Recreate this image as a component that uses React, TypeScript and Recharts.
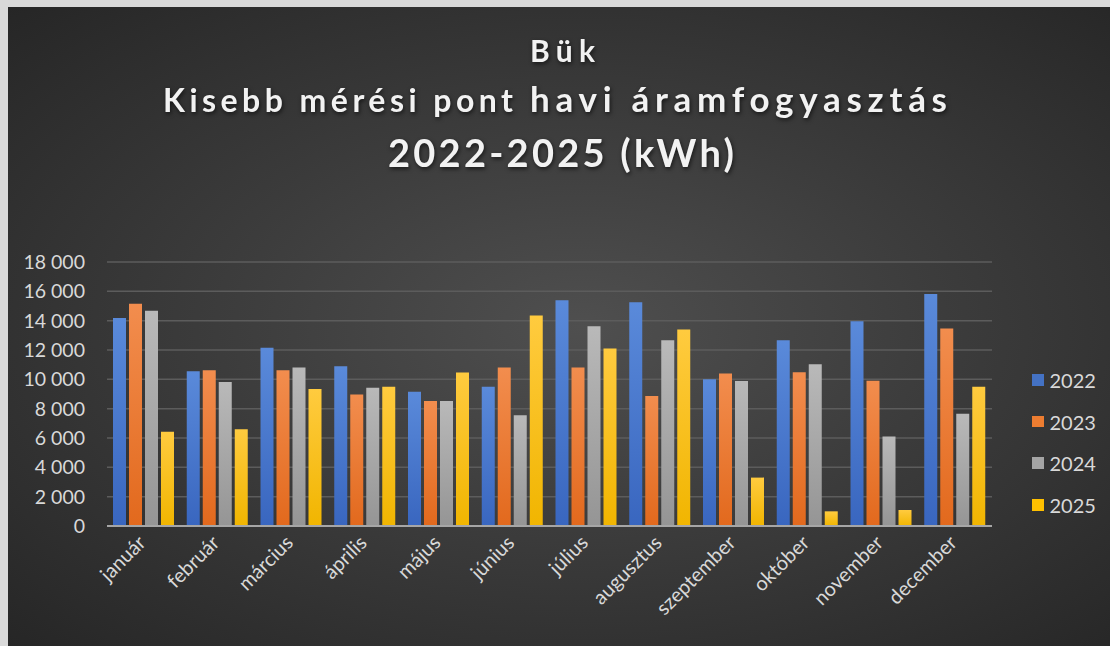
import React from 'react';
import { BarChart, Bar, XAxis, YAxis, CartesianGrid, Legend } from 'recharts';

const months = ['január', 'február', 'március', 'április', 'május', 'június', 'július', 'augusztus', 'szeptember', 'október', 'november', 'december'];
const years = ['2022', '2023', '2024', '2025'];
const v2022 = [14180, 10550, 12160, 10890, 9160, 9500, 15390, 15250, 10000, 12660, 13960, 15820];
const v2023 = [15160, 10620, 10620, 8960, 8520, 10800, 10800, 8860, 10390, 10480, 9910, 13460];
const v2024 = [14680, 9820, 10800, 9430, 8520, 7550, 13620, 12660, 9890, 11030, 6100, 7660];
const v2025 = [6430, 6590, 9340, 9500, 10460, 14350, 12100, 13390, 3300, 1000, 1090, 9500];
const yTicks = [0, 2000, 4000, 6000, 8000, 10000, 12000, 14000, 16000, 18000];

const seriesValues = [v2022, v2023, v2024, v2025];
const colors = ['#4472C4', '#ED7D31', '#A5A5A5', '#FFC000'];
const colorsTop = ['#5A8ADA', '#F28D4E', '#B9B9B9', '#FFCB3F'];
const colorsBottom = ['#3966BF', '#E2691D', '#959595', '#F1B500'];

const data = months.map((m, i) => {
  const row: Record<string, string | number> = { month: m };
  years.forEach((y, k) => {
    row['y' + y] = seriesValues[k][i];
  });
  return row;
});

const FONT = 'Lato, "Open Sans", sans-serif';

const fmt = (v: number) => {
  if (v < 1000) return String(v);
  return `${Math.floor(v / 1000)} ${String(v % 1000).padStart(3, '0')}`;
};

const XTick = (props: any) => {
  const { x, y, payload } = props;
  const px = x + 3;
  const py = y + 10;
  return (
    <text
      x={px}
      y={py}
      transform={`rotate(-45 ${px} ${py})`}
      textAnchor="end"
      fill="#d9d9d9"
      fontSize={20}
      fontFamily={FONT}
    >
      {payload.value}
    </text>
  );
};

const LegendContent = () => (
  <div style={{ fontFamily: FONT }}>
    {years.map((y, i) => (
      <div key={y} style={{ height: 41.7, display: 'flex', alignItems: 'center' }}>
        <div style={{ width: 11.5, height: 11.5, background: colors[i], marginRight: 6 }} />
        <span style={{ color: '#d9d9d9', fontSize: 20, lineHeight: '20px' }}>{y}</span>
      </div>
    ))}
  </div>
);

export default function App() {
  return (
    <div style={{ position: 'absolute', left: 0, top: 0, width: 1110, height: 646, background: '#d9d9d9', overflow: 'hidden' }}>
      <div
        style={{
          position: 'absolute',
          left: 8,
          top: 7,
          width: 1102,
          height: 639,
          background: 'radial-gradient(ellipse farthest-corner at 52% 50%, #4f4f4f 0%, #3c3c3c 45%, #262626 100%)',
        }}
      >
        <BarChart
          width={1102}
          height={639}
          data={data}
          margin={{ top: 255, right: 118, bottom: 0, left: 0 }}
          barSize={13}
          barGap={3}
        >
          <defs>
            {years.map((y, i) => (
              <linearGradient key={y} id={'g' + y} x1="0" y1="0" x2="0" y2="1">
                <stop offset="0%" stopColor={colorsTop[i]} />
                <stop offset="100%" stopColor={colorsBottom[i]} />
              </linearGradient>
            ))}
          </defs>
          <CartesianGrid vertical={false} stroke="#5c5c5c" strokeWidth={1.5} />
          <XAxis
            dataKey="month"
            height={120}
            interval={0}
            tickLine={false}
            axisLine={{ stroke: '#a6a6a6', strokeWidth: 2 }}
            tick={<XTick />}
          />
          <YAxis
            width={99}
            domain={[0, 18000]}
            ticks={yTicks}
            tickFormatter={fmt}
            axisLine={false}
            tickLine={false}
            tickSize={6}
            tickMargin={16}
            tick={{ fill: '#d9d9d9', fontSize: 19.5, fontFamily: FONT }}
          />
          <Legend
            layout="horizontal"
            align="center"
            verticalAlign="middle"
            content={<LegendContent />}
            wrapperStyle={{ left: 1024, top: 352, width: 80, height: 170 }}
          />
          {years.map((y) => (
            <Bar key={y} dataKey={'y' + y} name={y} fill={`url(#g${y})`} isAnimationActive={false} />
          ))}
        </BarChart>
        <svg
          width={1102}
          height={200}
          style={{ position: 'absolute', left: 0, top: 0, pointerEvents: 'none', fontFamily: FONT }}
        >
          <g fill="#f2f2f2" fontWeight="bold" style={{ filter: 'drop-shadow(1px 2px 2px rgba(0,0,0,0.6))' }}>
            <text x={522} y={55} fontSize={30} textLength={65} lengthAdjust="spacing">Bük</text>
            <text x={155} y={105} fontSize={32} textLength={350} lengthAdjust="spacing">Kisebb mérési pont</text>
            <text x={522} y={105} fontSize={35} textLength={417} lengthAdjust="spacing">havi áramfogyasztás</text>
            <text x={380} y={160} fontSize={38} textLength={346} lengthAdjust="spacing">2022-2025 (kWh)</text>
          </g>
        </svg>
      </div>
    </div>
  );
}
